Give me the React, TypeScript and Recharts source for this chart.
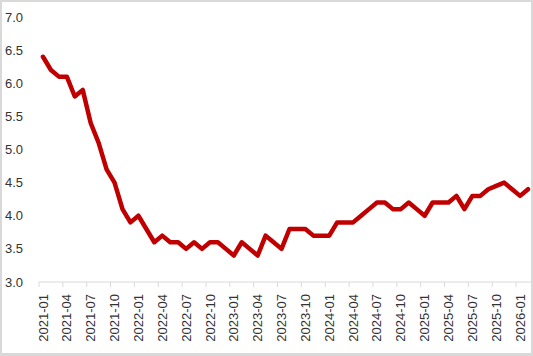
import React from 'react';
import { LineChart, Line, XAxis, YAxis } from 'recharts';

const months = [
  '2021-01', '2021-02', '2021-03', '2021-04', '2021-05', '2021-06',
  '2021-07', '2021-08', '2021-09', '2021-10', '2021-11', '2021-12',
  '2022-01', '2022-02', '2022-03', '2022-04', '2022-05', '2022-06',
  '2022-07', '2022-08', '2022-09', '2022-10', '2022-11', '2022-12',
  '2023-01', '2023-02', '2023-03', '2023-04', '2023-05', '2023-06',
  '2023-07', '2023-08', '2023-09', '2023-10', '2023-11', '2023-12',
  '2024-01', '2024-02', '2024-03', '2024-04', '2024-05', '2024-06',
  '2024-07', '2024-08', '2024-09', '2024-10', '2024-11', '2024-12',
  '2025-01', '2025-02', '2025-03', '2025-04', '2025-05', '2025-06',
  '2025-07', '2025-08', '2025-09', '2025-10', '2025-11', '2025-12',
  '2026-01', '2026-02',
];

const values = [
  6.4, 6.2, 6.1, 6.1, 5.8, 5.9, 5.4, 5.1, 4.7, 4.5, 4.1, 3.9,
  4.0, 3.8, 3.6, 3.7, 3.6, 3.6, 3.5, 3.6, 3.5, 3.6, 3.6, 3.5,
  3.4, 3.6, 3.5, 3.4, 3.7, 3.6, 3.5, 3.8, 3.8, 3.8, 3.7, 3.7,
  3.7, 3.9, 3.9, 3.9, 4.0, 4.1, 4.2, 4.2, 4.1, 4.1, 4.2, 4.1,
  4.0, 4.2, 4.2, 4.2, 4.3, 4.1, 4.3, 4.3, 4.4, 4.45, 4.5, 4.4,
  4.3, 4.4,
];

const xTicks = [
  '2021-01', '2021-04', '2021-07', '2021-10', '2022-01', '2022-04',
  '2022-07', '2022-10', '2023-01', '2023-04', '2023-07', '2023-10',
  '2024-01', '2024-04', '2024-07', '2024-10', '2025-01', '2025-04',
  '2025-07', '2025-10', '2026-01',
];

const yTicks = [3.0, 3.5, 4.0, 4.5, 5.0, 5.5, 6.0, 6.5, 7.0];

const data = months.map((m, i) => ({ month: m, value: values[i] }));

const W = 533;
const H = 356;
const Y_AXIS_W = 39;
const MARGIN = { top: 17, right: 1, bottom: 4, left: 0 };
const CAT_W = (W - MARGIN.right - MARGIN.left - Y_AXIS_W) / months.length;
const FONT = "'Liberation Sans', Arial, sans-serif";
const TEXT = '#333333';
const GRAY = '#d9d9d9';

const MonthTick = (props: any) => {
  const { x, y, payload } = props;
  const bx = x - CAT_W / 2;
  const ty = y + 12;
  return (
    <g>
      <line x1={bx} y1={y} x2={bx} y2={y + 5} stroke={GRAY} />
      <text
        x={x}
        y={ty}
        transform={`rotate(-90 ${x} ${ty})`}
        textAnchor='end'
        dy='0.35em'
        fontSize={13}
        fill={TEXT}
        fontFamily={FONT}
      >
        {payload.value}
      </text>
    </g>
  );
};

const App = () => {
  return (
    <div style={{ position: 'absolute', left: 0, top: 0, width: W, height: H, background: '#fff' }}>
      <LineChart width={W} height={H} data={data} margin={MARGIN} style={{ fontFamily: FONT }}>
        <XAxis
          dataKey='month'
          ticks={xTicks}
          interval={0}
          tick={<MonthTick />}
          tickLine={false}
          tickSize={0}
          tickMargin={0}
          height={70}
          padding={{ left: CAT_W / 2, right: CAT_W / 2 }}
          axisLine={{ stroke: GRAY }}
        />
        <YAxis
          domain={[3, 7]}
          ticks={yTicks}
          tickFormatter={(v: number) => v.toFixed(1)}
          axisLine={false}
          tickLine={false}
          tickMargin={10}
          width={Y_AXIS_W}
          tick={{ fontSize: 13, fill: TEXT, fontFamily: FONT }}
        />
        <Line
          type='linear'
          dataKey='value'
          stroke='#c00000'
          strokeWidth={4.5}
          strokeLinejoin='round'
          strokeLinecap='round'
          dot={false}
          isAnimationActive={false}
        />
      </LineChart>
      <div
        style={{
          position: 'absolute',
          inset: 0,
          borderStyle: 'solid',
          borderColor: GRAY,
          borderWidth: '2px 2px 3px 2px',
          pointerEvents: 'none',
        }}
      />
    </div>
  );
};

export default App;
